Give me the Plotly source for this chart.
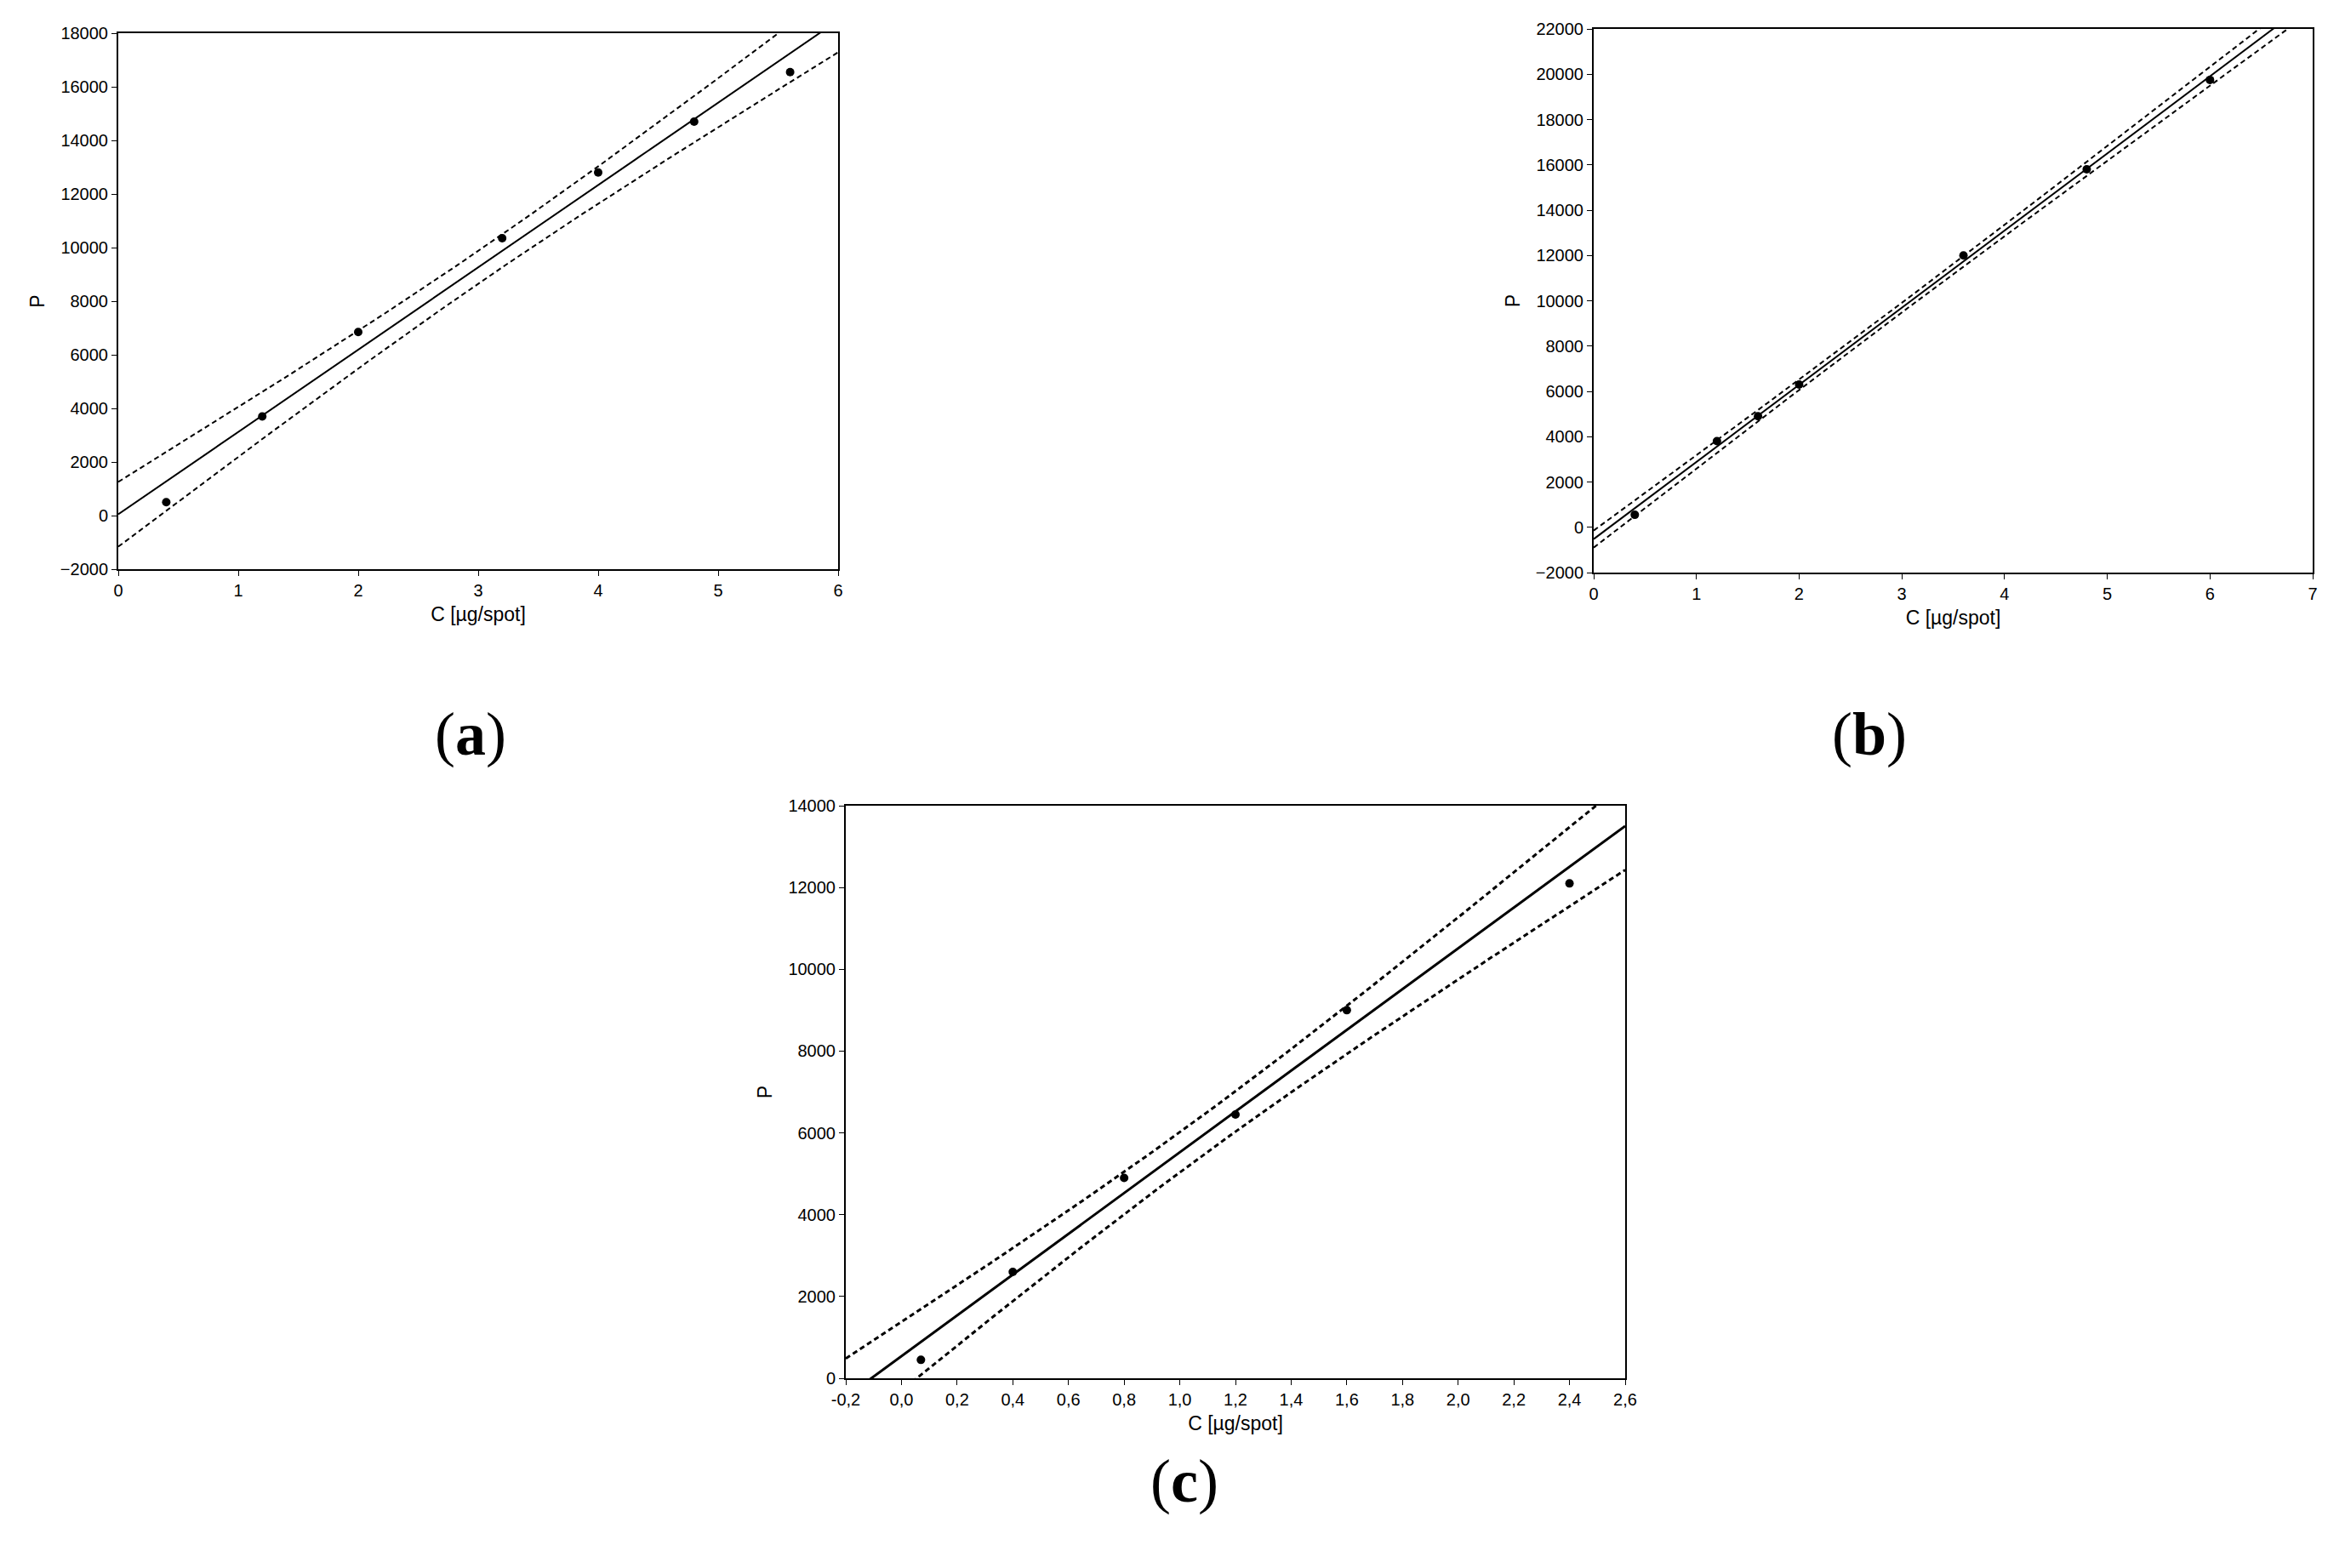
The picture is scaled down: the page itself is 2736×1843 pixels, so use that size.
import numpy as np
import plotly.graph_objects as go

xa = [0.4, 1.2, 2.0, 3.2, 4.0, 4.8, 5.6]
ya = [500, 3700, 6850, 10350, 12800, 14700, 16550]
xb = [0.4, 1.2, 1.6, 2.0, 3.6, 4.8, 6.0]
yb = [550, 3800, 4900, 6300, 12000, 15800, 19750]
xc = [0.07, 0.4, 0.8, 1.2, 1.6, 2.4]
yc = [450, 2600, 4900, 6450, 9000, 12100]
tick_c_vals = [-0.2, 0, 0.2, 0.4, 0.6, 0.8, 1.0, 1.2, 1.4, 1.6, 1.8, 2.0, 2.2, 2.4, 2.6]
tick_c_text = ["-0,2", "0,0", "0,2", "0,4", "0,6", "0,8", "1,0", "1,2", "1,4", "1,6", "1,8", "2,0", "2,2", "2,4", "2,6"]

W, H = 2736, 1843
fig = go.Figure()

def band(x, y, lo, hi, t):
    x = np.array(x); y = np.array(y)
    n = len(x)
    b, a = np.polyfit(x, y, 1)
    res = y - (a + b * x)
    s = np.sqrt((res ** 2).sum() / (n - 2))
    xs = np.linspace(lo, hi, 200)
    yf = a + b * xs
    se = s * np.sqrt(1 / n + (xs - x.mean()) ** 2 / ((x - x.mean()) ** 2).sum())
    return xs, yf, yf - t * se, yf + t * se

panels = [
    (xa, ya, "", [131, 977, 31, 661], [0, 6], [-2000, 18000], 2.571, None),
    (xb, yb, "2", [1865, 2710, 26, 665], [0, 7], [-2000, 22000], 2.571, None),
    (xc, yc, "3", [986, 1902, 939, 1612], [-0.2, 2.6], [0, 14000], 2.776, True),
]
for x, y, k, (x0, x1, y0, y1), xr, yr, t, cfmt in panels:
    xs, yf, lo, hi = band(x, y, xr[0], xr[1], t)
    xa_name = "x" + k; ya_name = "y" + k
    wdt = 3 if k == "3" else 2
    fig.add_trace(go.Scatter(x=xs, y=yf, mode="lines", line=dict(color="black", width=wdt), xaxis=xa_name, yaxis=ya_name, showlegend=False))
    for yy in (lo, hi):
        fig.add_trace(go.Scatter(x=xs, y=yy, mode="lines", line=dict(color="black", width=wdt, dash="6px,4px"), xaxis=xa_name, yaxis=ya_name, showlegend=False))
    fig.add_trace(go.Scatter(x=x, y=y, mode="markers", marker=dict(color="black", size=10), xaxis=xa_name, yaxis=ya_name, showlegend=False))
    common = dict(showgrid=False, zeroline=False, showline=True, mirror=True, linecolor="black", linewidth=2, automargin=False,
                  ticks="outside", ticklen=6, tickcolor="black", tickfont=dict(family="Liberation Sans", size=20, color="black"))
    xax = dict(common, domain=[x0 / W, x1 / W], range=xr, anchor=ya_name,
               title=dict(text="C [µg/spot]", font=dict(family="Liberation Sans", size=23, color="black"), standoff=10))
    if cfmt:
        xax.update(tickvals=tick_c_vals, ticktext=tick_c_text)
    else:
        xax.update(dtick=1)
    yax = dict(common, domain=[1 - y1 / H, 1 - y0 / H], range=yr, anchor=xa_name, dtick=2000, tickformat="d",
               title=dict(text="P", font=dict(family="Liberation Sans", size=23, color="black"), standoff=12))
    fig.layout["xaxis" + k] = xax
    fig.layout["yaxis" + k] = yax

for txt, px, py in [("a", 501, 855), ("b", 2235, 855), ("c", 1384, 1775)]:
    fig.add_annotation(text="(<b>%s</b>)" % txt, x=px / W, y=1 - py / H, xref="paper", yref="paper",
                       showarrow=False, font=dict(family="Liberation Serif", size=72, color="black"))

fig.update_layout(width=W, height=H, margin=dict(l=0, r=0, t=0, b=0), plot_bgcolor="white", paper_bgcolor="white")
fig.write_html("out.html")
